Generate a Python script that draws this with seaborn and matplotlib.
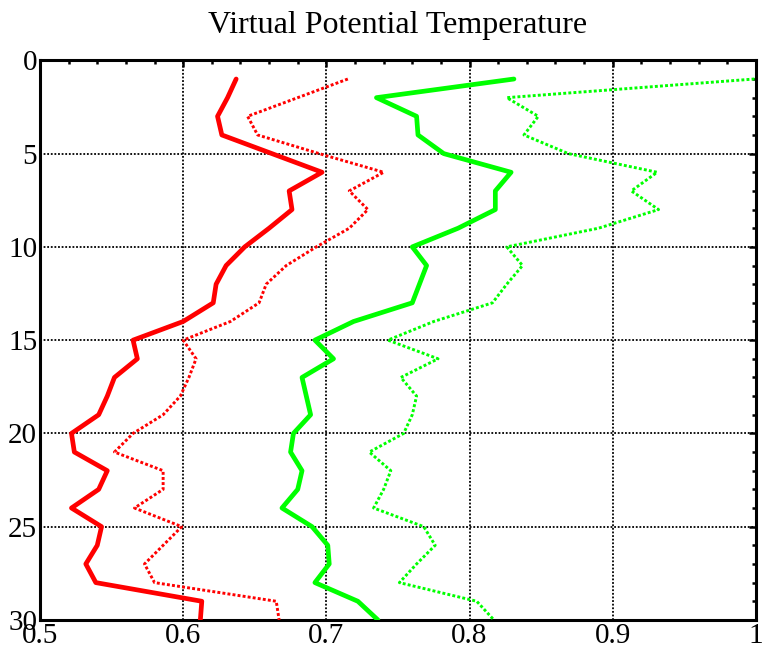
import numpy as np
import pandas as pd
import matplotlib
matplotlib.use("Agg")
import matplotlib.pyplot as plt
from matplotlib.ticker import MultipleLocator, FuncFormatter
import seaborn as sns

# Depth levels and virtual potential temperature profiles
depth = list(range(1, 31))

red_solid = [0.637, 0.631, 0.624, 0.627, 0.662, 0.697, 0.674, 0.676, 0.660, 0.643,
             0.630, 0.623, 0.621, 0.600, 0.565, 0.568, 0.552, 0.547, 0.541, 0.522,
             0.524, 0.547, 0.541, 0.522, 0.543, 0.540, 0.532, 0.539, 0.613, 0.612]

red_dotted = [0.715, 0.680, 0.645, 0.652, 0.695, 0.740, 0.716, 0.729, 0.716, 0.693,
              0.672, 0.658, 0.653, 0.633, 0.600, 0.609, 0.604, 0.598, 0.586, 0.565,
              0.552, 0.586, 0.586, 0.566, 0.599, 0.586, 0.573, 0.580, 0.665, 0.667]

green_solid = [0.831, 0.735, 0.763, 0.764, 0.782, 0.829, 0.818, 0.818, 0.792, 0.760,
               0.770, 0.765, 0.760, 0.719, 0.692, 0.705, 0.683, 0.686, 0.689, 0.677,
               0.675, 0.683, 0.680, 0.669, 0.690, 0.701, 0.702, 0.692, 0.722, 0.736]

green_dotted = [0.999, 0.826, 0.848, 0.838, 0.869, 0.931, 0.913, 0.932, 0.890, 0.826,
                0.837, 0.826, 0.816, 0.775, 0.743, 0.778, 0.752, 0.763, 0.760, 0.754,
                0.730, 0.745, 0.740, 0.733, 0.768, 0.776, 0.763, 0.751, 0.805, 0.817]

x_ticks = [0.5, 0.6, 0.7, 0.8, 0.9, 1.0]
y_ticks = [0, 5, 10, 15, 20, 25, 30]

series = [
    ("red_solid", red_solid, "#ff0000", "solid"),
    ("red_dotted", red_dotted, "#ff0000", "dotted"),
    ("green_solid", green_solid, "#00ff00", "solid"),
    ("green_dotted", green_dotted, "#00ff00", "dotted"),
]

frames = []
for name, vals, _, _ in series:
    frames.append(pd.DataFrame({"depth": depth, "value": vals, "series": name}))
df = pd.concat(frames, ignore_index=True)

sns.set_style("white")
plt.rcParams["font.family"] = ["Liberation Serif", "DejaVu Serif"]
plt.rcParams["text.color"] = "black"
plt.rcParams["xtick.color"] = "black"
plt.rcParams["ytick.color"] = "black"
plt.rcParams["xtick.labelcolor"] = "black"
plt.rcParams["ytick.labelcolor"] = "black"

fig = plt.figure(figsize=(7.69, 6.56), dpi=100)
ax = fig.add_axes([0.052, 0.055, 0.931, 0.853])

for name, _, color, style in series:
    sub = df[df["series"] == name]
    if style == "solid":
        sns.lineplot(data=sub, x="value", y="depth", sort=False, estimator=None,
                     color=color, linewidth=3.4, ax=ax, zorder=3)
    else:
        sns.lineplot(data=sub, x="value", y="depth", sort=False, estimator=None,
                     color=color, linewidth=2.1, ax=ax, zorder=3)
        ax.lines[-1].set_dashes((1.0, 0.75))

ax.set_xlim(x_ticks[0], x_ticks[-1])
ax.set_ylim(y_ticks[-1], y_ticks[0])
ax.set_xticks(x_ticks)
ax.set_yticks(y_ticks)
ax.xaxis.set_major_formatter(FuncFormatter(lambda v, p: f"{v:g}"))
ax.xaxis.set_minor_locator(MultipleLocator(0.02))
ax.yaxis.set_minor_locator(MultipleLocator(1))

ax.grid(True, which="major", color="black", linestyle=(0, (1.0, 1.0)), linewidth=1.3, zorder=1)
ax.set_axisbelow(True)

for sp in ax.spines.values():
    sp.set_linewidth(2.2)
    sp.set_color("black")

ax.tick_params(which="both", direction="in", top=True, right=True, color="black")
ax.tick_params(which="major", length=5, width=1.8, labelsize=21, pad=2)
ax.tick_params(which="minor", length=3, width=1.8)
ax.set_xlabel("")
ax.set_ylabel("")
ax.set_title("Virtual Potential Temperature", fontsize=23, pad=20, color="black")

fig.savefig("out.png", dpi=100)
